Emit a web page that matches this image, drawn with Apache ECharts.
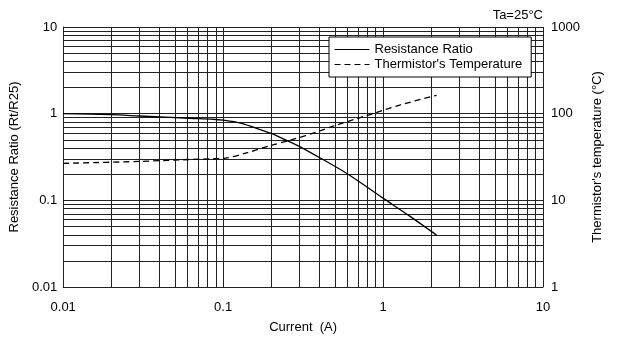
<!DOCTYPE html>
<html>
<head>
<meta charset="utf-8">
<script src="https://cdn.jsdelivr.net/npm/echarts@6/dist/echarts.min.js"></script>
<style>
html,body{margin:0;padding:0;background:#fff;}
#chart{width:618px;height:339px;}
</style>
</head>
<body>
<div id="chart"></div>
<script>
// ---- data ----
const ratioCurrent = [0.01, 0.02, 0.03, 0.062, 0.087, 0.1, 0.127, 0.154, 0.2, 0.249, 0.301, 0.402, 0.604, 1.0, 1.468, 2.16];
const resistanceRatio = [1.0, 0.973, 0.94, 0.885, 0.862, 0.84, 0.782, 0.699, 0.591, 0.492, 0.417, 0.31, 0.2, 0.106, 0.0657, 0.0397];
const tempCurrent = [0.01, 0.03, 0.056, 0.087, 0.1, 0.14, 0.2, 0.261, 0.384, 0.487, 0.787, 1.271, 2.16];
const thermistorTemp = [26.7, 28.1, 29.4, 30.2, 30.4, 35.3, 43.1, 49.2, 61.3, 71.8, 94.8, 125.6, 163];
const xDecades = [0.01, 0.1, 1];
const yLeftDecades = [0.01, 0.1, 1];
const gridMultipliers = [1, 2, 3, 4, 5, 6, 7, 8, 9];
const xMax = 10, yLeftMax = 10;
const xTickLabels = ['0.01', '0.1', '1', '10'];
const yLeftTickLabels = ['0.01', '0.1', '1', '10'];
const yRightTickLabels = ['1', '10', '100', '1000'];

function gridValues(decades, maxV) {
  const out = [];
  decades.forEach(d => gridMultipliers.forEach(m => out.push(+(d * m).toPrecision(6))));
  out.push(maxV);
  return out;
}
const xGrid = gridValues(xDecades, xMax);
const yGrid = gridValues(yLeftDecades, yLeftMax);

function pickLabel(list) {
  return function (v) {
    let best = list[0], bd = Infinity;
    list.forEach(s => { const d = Math.abs(Math.log10(+s) - Math.log10(v)); if (d < bd) { bd = d; best = s; } });
    return best;
  };
}

const FONT = 'Liberation Sans, Arial, sans-serif';
const chart = echarts.init(document.getElementById('chart'));
const gridLineData = xGrid.map(v => ({ xAxis: v })).concat(yGrid.map(v => ({ yAxis: v })));

chart.setOption({
  animation: false,
  backgroundColor: '#fff',
  textStyle: { fontFamily: FONT, color: '#000' },
  title: {
    text: 'Ta=25°C', right: 75, top: 9, padding: 0,
    textStyle: { fontSize: 13, fontWeight: 'normal', color: '#000', fontFamily: FONT }
  },
  legend: {
    data: ['Resistance Ratio', "Thermistor's Temperature"],
    orient: 'vertical', left: 329, top: 37,
    padding: [6, 9, 6, 5], itemGap: 2, itemWidth: 35, itemHeight: 14,
    backgroundColor: '#fff', borderColor: '#000', borderWidth: 1,
    itemStyle: { color: 'transparent', borderColor: 'transparent', borderWidth: 0, opacity: 0 },
    lineStyle: { width: 1 },
    textStyle: { fontSize: 13, color: '#000', fontFamily: FONT }
  },
  grid: { left: 63, right: 75, top: 27, bottom: 49 },
  xAxis: {
    type: 'log', logBase: 10, min: 0.01, max: 10,
    name: 'Current  (A)', nameLocation: 'middle', nameGap: 34,
    nameTextStyle: { fontSize: 13, color: '#000', fontFamily: FONT },
    axisLine: { show: true, lineStyle: { color: '#000', width: 1 } },
    axisTick: { show: false }, splitLine: { show: false },
    axisLabel: { margin: 14, fontSize: 13, color: '#000', fontFamily: FONT, formatter: pickLabel(xTickLabels) }
  },
  yAxis: [{
    type: 'log', logBase: 10, min: 0.01, max: 10, position: 'left',
    name: 'Resistance Ratio (Rt/R25)', nameLocation: 'middle', nameGap: 39,
    nameTextStyle: { fontSize: 13, color: '#000', fontFamily: FONT },
    axisLine: { show: true, lineStyle: { color: '#000', width: 1 } },
    axisTick: { show: false }, splitLine: { show: false },
    axisLabel: { margin: 6, fontSize: 13, color: '#000', fontFamily: FONT, formatter: pickLabel(yLeftTickLabels) }
  }, {
    type: 'log', logBase: 10, min: 1, max: 1000, position: 'right',
    name: "Thermistor's temperature (°C)", nameLocation: 'middle', nameGap: 47, nameRotate: 90,
    nameTextStyle: { fontSize: 13, color: '#000', fontFamily: FONT, verticalAlign: 'top' },
    axisLine: { show: false },
    axisTick: { show: false }, splitLine: { show: false },
    axisLabel: { margin: 8, fontSize: 13, color: '#000', fontFamily: FONT, formatter: pickLabel(yRightTickLabels) }
  }],
  series: [{
    name: 'Resistance Ratio', type: 'line', yAxisIndex: 0, z: 5,
    data: ratioCurrent.map((x, i) => [x, resistanceRatio[i]]),
    showSymbol: false, symbol: 'none', smooth: 0.3,
    itemStyle: { color: '#000' },
    lineStyle: { color: '#000', width: 1.3, type: 'solid' },
    markLine: {
      silent: true, z: 1, symbol: ['none', 'none'], label: { show: false },
      lineStyle: { color: '#222', width: 1, type: 'solid' },
      emphasis: { disabled: true },
      data: gridLineData
    }
  }, {
    name: "Thermistor's Temperature", type: 'line', yAxisIndex: 1, z: 5,
    data: tempCurrent.map((x, i) => [x, thermistorTemp[i]]),
    showSymbol: false, symbol: 'none', smooth: 0.3,
    itemStyle: { color: '#000' },
    lineStyle: { color: '#000', width: 1.3, type: [6, 4] }
  }]
});
</script>
</body>
</html>
